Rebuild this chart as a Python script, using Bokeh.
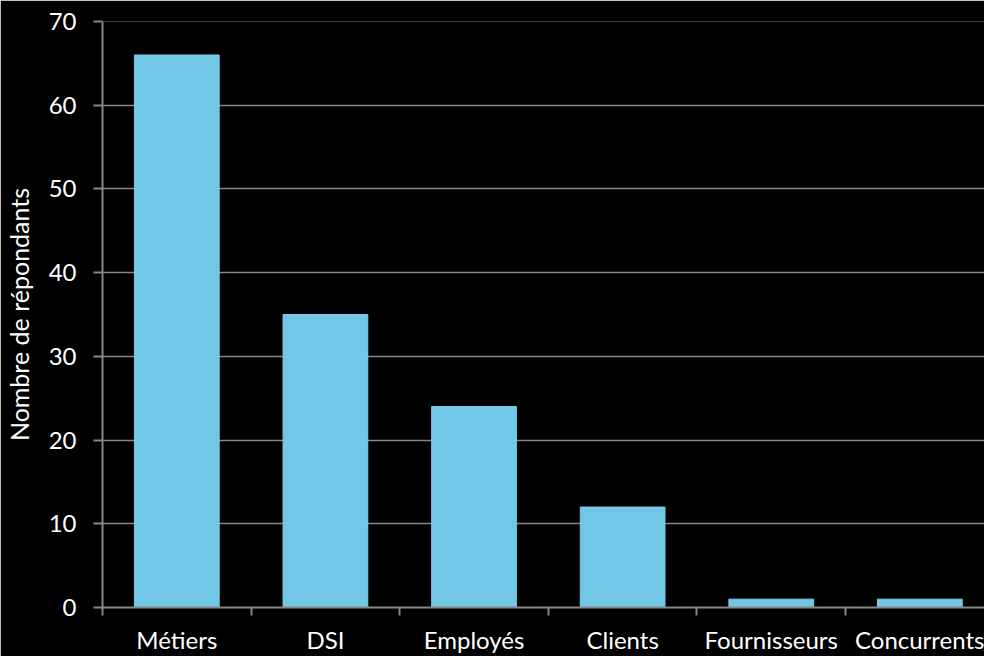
from bokeh.plotting import figure
from bokeh.models import Range1d, FixedTicker, ColumnDataSource
from bokeh.embed import file_html
from bokeh.resources import INLINE

categories = ["Métiers", "DSI", "Employés", "Clients", "Fournisseurs", "Concurrents"]
values = [66, 35, 24, 12, 1, 1]
y_ticks = [0, 10, 20, 30, 40, 50, 60, 70]

xs = [i + 0.5 for i in range(len(categories))]
src = ColumnDataSource(data=dict(x=xs, top=values, cat=categories))

FONT = "Lato"
GRAY = "#878787"

p = figure(width=984, height=656, output_backend="svg", toolbar_location=None,
           x_range=Range1d(0, 5.935), y_range=Range1d(0, 70),
           background_fill_color="black", border_fill_color="black",
           min_border_left=99, min_border_right=0, min_border_top=21, min_border_bottom=46)
p.outline_line_color = None

p.vbar(x="x", top="top", width=0.57, bottom=0, source=src,
       fill_color="#72C7E7", line_color="#7fcdea", line_width=1)

# x axis
p.xaxis.ticker = FixedTicker(ticks=xs, minor_ticks=list(range(0, 7)))
p.xaxis.major_label_overrides = {x: c for x, c in zip(xs, categories)}
p.xaxis.major_tick_line_color = None
p.xaxis.minor_tick_out = 8
p.xaxis.minor_tick_in = 0
p.xaxis.minor_tick_line_color = GRAY
p.xaxis.minor_tick_line_width = 2
p.xaxis.axis_line_color = GRAY
p.xaxis.axis_line_width = 2
p.xaxis.major_label_text_color = "white"
p.xaxis.major_label_text_font = FONT
p.xaxis.major_label_text_font_size = "24px"
p.xaxis.major_label_standoff = 9
p.xgrid.grid_line_color = None

# y axis
p.yaxis.ticker = FixedTicker(ticks=y_ticks)
p.yaxis.minor_tick_line_color = None
p.yaxis.major_tick_out = 9
p.yaxis.major_tick_in = 0
p.yaxis.major_tick_line_color = GRAY
p.yaxis.major_tick_line_width = 2
p.yaxis.axis_line_color = GRAY
p.yaxis.axis_line_width = 2
p.yaxis.major_label_text_color = "white"
p.yaxis.major_label_text_font = FONT
p.yaxis.major_label_text_font_size = "24px"
p.yaxis.major_label_standoff = 17
p.yaxis.axis_label = "Nombre de répondants"
p.yaxis.axis_label_text_color = "white"
p.yaxis.axis_label_text_font = FONT
p.yaxis.axis_label_text_font_size = "25px"
p.yaxis.axis_label_text_font_style = "normal"
p.yaxis.axis_label_standoff = 12
p.ygrid.grid_line_color = GRAY
p.ygrid.grid_line_width = 1.5

open("out.html", "w").write(file_html(p, INLINE))
